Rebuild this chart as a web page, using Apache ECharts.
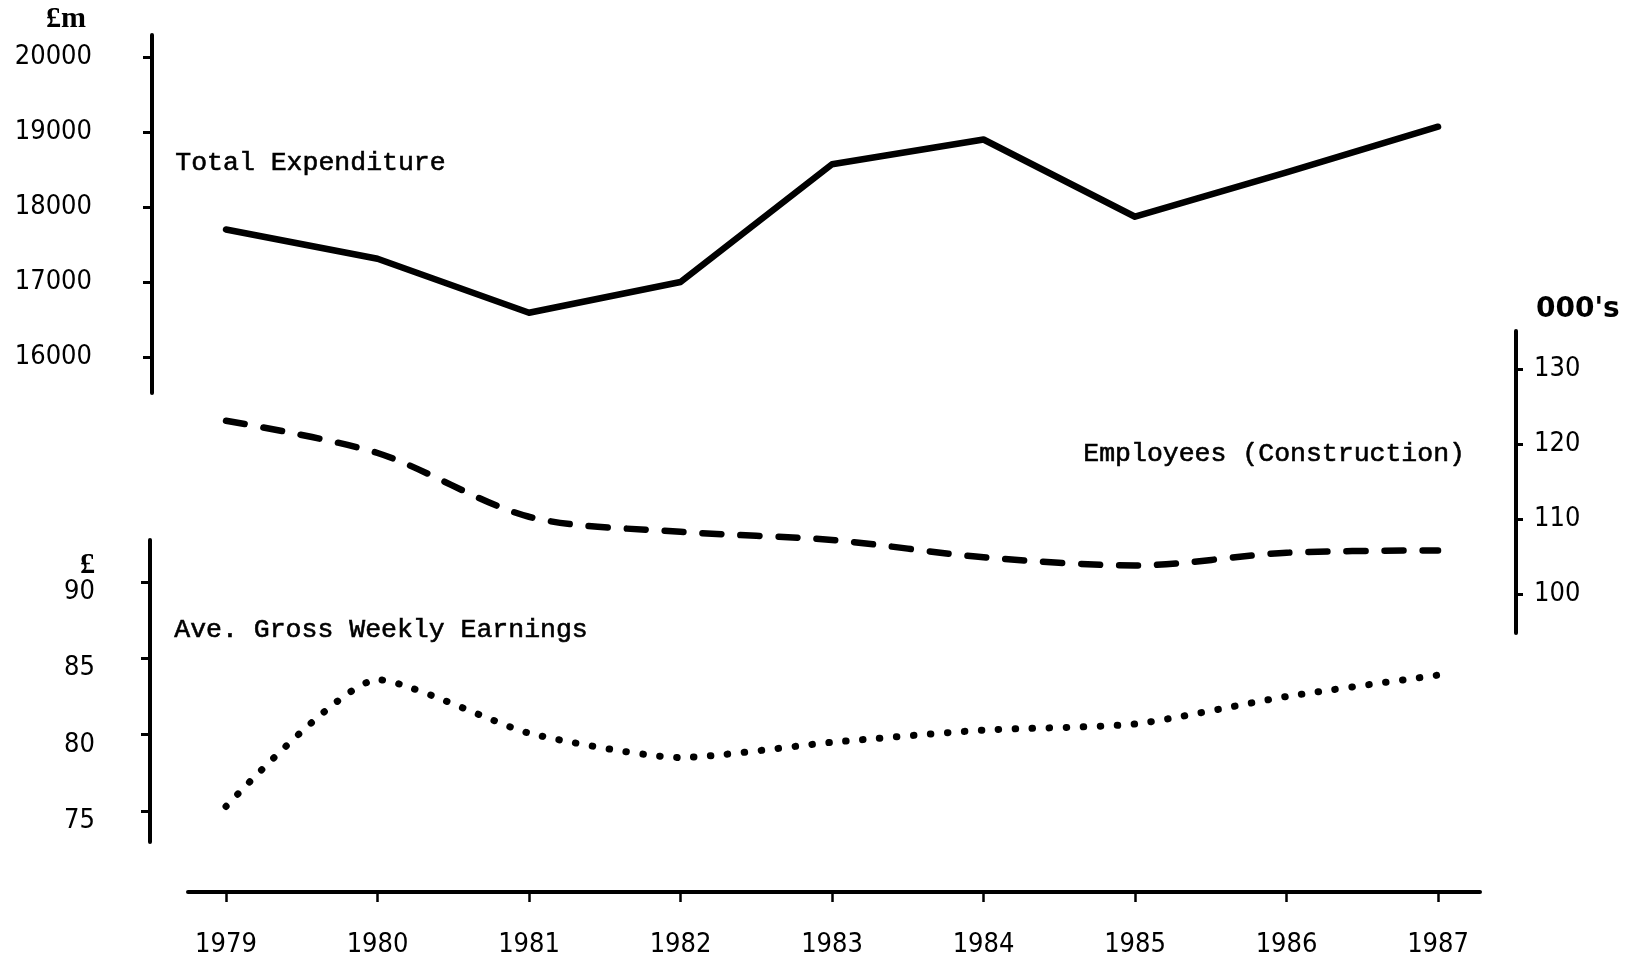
<!DOCTYPE html>
<html>
<head>
<meta charset="utf-8">
<script src="https://cdn.jsdelivr.net/npm/echarts@6/dist/echarts.min.js"></script>
<style>
  html, body { margin: 0; padding: 0; background: #ffffff; }
  #chart { width: 1635px; height: 960px; }
</style>
</head>
<body>
<div id="chart"></div>
<script>
// ---- data ----
const years = [1979, 1980, 1981, 1982, 1983, 1984, 1985, 1986, 1987];
const totalExpenditure = [17700, 17310, 16590, 17000, 18570, 18900, 17870, 18460, 19070];   // £m
const employeesConstruction = [123.1, 118.8, 110.3, 108.3, 107.2, 104.9, 103.8, 105.5, 105.8]; // 000's
const weeklyEarnings = [75.3, 83.6, 80.1, 78.5, 79.5, 80.3, 80.7, 82.5, 83.9];                // £
const expenditureTicks = [16000, 17000, 18000, 19000, 20000];
const employeeTicks = [100, 110, 120, 130];
const earningsTicks = [75, 80, 85, 90];

const pairs = (vals) => years.map((y, i) => [y, vals[i]]);

const chart = echarts.init(document.getElementById('chart'), null, { renderer: 'canvas' });

const numFont = { fontFamily: '"DejaVu Sans Condensed", "DejaVu Sans"', fontSize: 27, color: '#000' };
const monoFont = 'Liberation Mono';
const xMin = 1978.749, xMax = 1987.277;

function hiddenX(gi) {
  return { type: 'value', gridIndex: gi, min: xMin, max: xMax, show: false };
}

const option = {
  backgroundColor: '#ffffff',
  animation: false,
  grid: [
    { left: 188, right: 155, top: 35, height: 358 },   // total expenditure
    { left: 188, right: 155, top: 331, height: 302 },  // employees
    { left: 188, right: 155, top: 540, height: 302 }   // earnings
  ],
  xAxis: [
    hiddenX(0),
    hiddenX(1),
    {
      type: 'value', gridIndex: 2, min: xMin, max: xMax, position: 'bottom', offset: 50,
      splitLine: { show: false },
      axisLine: { show: true, lineStyle: { color: '#000', width: 4 } },
      axisTick: { show: true, length: 10, customValues: years, lineStyle: { color: '#000', width: 2.5 } },
      axisLabel: Object.assign({ margin: 39, customValues: years, formatter: (v) => String(v) }, numFont)
    }
  ],
  yAxis: [
    {
      type: 'value', gridIndex: 0, position: 'left', offset: 36, min: 15520, max: 20293,
      splitLine: { show: false },
      axisLine: { show: true, lineStyle: { color: '#000', width: 4 } },
      axisTick: { show: true, length: 9, customValues: expenditureTicks, lineStyle: { color: '#000', width: 3 } },
      axisLabel: Object.assign({ margin: 60, customValues: expenditureTicks, formatter: (v) => String(v) }, numFont)
    },
    {
      type: 'value', gridIndex: 1, position: 'right', offset: 36, min: 94.8, max: 135.07,
      splitLine: { show: false },
      axisLine: { show: true, lineStyle: { color: '#000', width: 4 } },
      axisTick: { show: true, length: 7, customValues: employeeTicks, lineStyle: { color: '#000', width: 3 } },
      axisLabel: Object.assign({ margin: 18, customValues: employeeTicks, formatter: (v) => String(v) }, numFont)
    },
    {
      type: 'value', gridIndex: 2, position: 'left', offset: 38, min: 72.97, max: 92.75,
      splitLine: { show: false },
      axisLine: { show: true, lineStyle: { color: '#000', width: 4 } },
      axisTick: { show: true, length: 9, customValues: earningsTicks, lineStyle: { color: '#000', width: 3 } },
      axisLabel: Object.assign({ margin: 55, customValues: earningsTicks, formatter: (v) => String(v), verticalAlign: 'top', lineHeight: 20 }, numFont)
    }
  ],
  series: [
    {
      name: 'Total Expenditure', type: 'line', xAxisIndex: 0, yAxisIndex: 0,
      data: pairs(totalExpenditure), showSymbol: false, smooth: false,
      lineStyle: { color: '#000', width: 6.5, join: 'round', cap: 'round' }
    },
    {
      name: 'Employees (Construction)', type: 'line', xAxisIndex: 1, yAxisIndex: 1,
      data: pairs(employeesConstruction), showSymbol: false, smooth: 0.3,
      lineStyle: { color: '#000', width: 6.5, type: [19, 19], cap: 'round' }
    },
    {
      name: 'Ave. Gross Weekly Earnings', type: 'line', xAxisIndex: 2, yAxisIndex: 2,
      data: pairs(weeklyEarnings), showSymbol: false, smooth: 0.2,
      lineStyle: { color: '#000', width: 7, type: [0.5, 16.5], cap: 'round' }
    }
  ],
  graphic: [
    { type: 'text', left: 46, top: 4, style: { text: '£m', fill: '#000', font: 'bold 30px "Liberation Serif"' } },
    { type: 'text', left: 80, top: 550, style: { text: '£', fill: '#000', font: 'bold 30px "Liberation Serif"' } },
    { type: 'text', left: 1536, top: 296, style: { text: "000's", fill: '#000', font: 'bold 28px "DejaVu Sans"' } },
    { type: 'text', left: 175, top: 149, style: { text: 'Total Expenditure', fill: '#000', stroke: '#000', lineWidth: 0.6, font: '26.5px "' + monoFont + '"' } },
    { type: 'text', left: 1083, top: 440, style: { text: 'Employees (Construction)', fill: '#000', stroke: '#000', lineWidth: 0.6, font: '26.5px "' + monoFont + '"' } },
    { type: 'text', left: 174, top: 616, style: { text: 'Ave. Gross Weekly Earnings', fill: '#000', stroke: '#000', lineWidth: 0.6, font: '26.5px "' + monoFont + '"' } }
  ]
};

chart.setOption(option);
</script>
</body>
</html>
